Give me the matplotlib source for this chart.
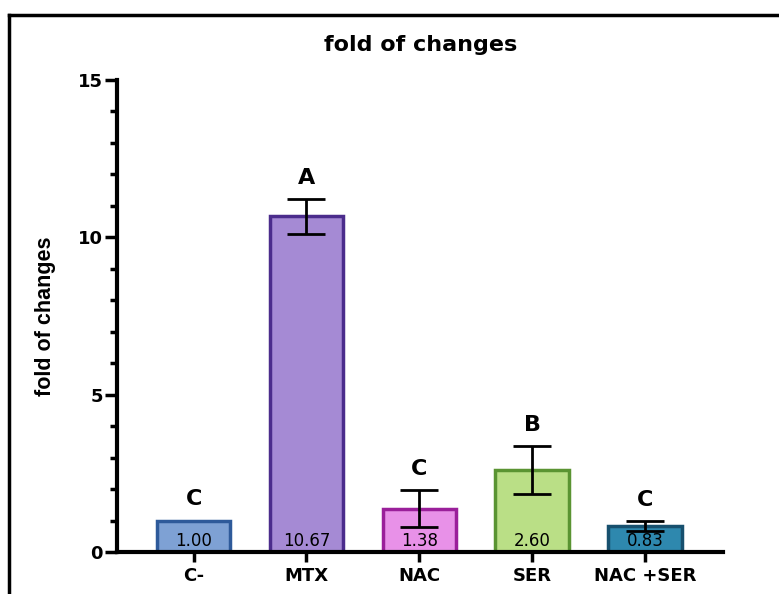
import matplotlib.pyplot as plt
from matplotlib.lines import Line2D
from matplotlib.ticker import MultipleLocator

plt.rcParams['font.family'] = ['Liberation Sans', 'DejaVu Sans']

groups = ["C-", "MTX", "NAC", "SER", "NAC +SER"]
means = [1.00, 10.67, 1.38, 2.60, 0.83]
sem = [0.0, 0.55, 0.58, 0.76, 0.15]
letters = ["C", "A", "C", "B", "C"]
fills = ["#7EA1D4", "#A58AD4", "#E891E8", "#BADF86", "#2E88AE"]
edges = ["#2E5A9A", "#4B2C8C", "#9A1F9A", "#5A9432", "#17506E"]

fig = plt.figure(figsize=(7.79, 5.94), dpi=100)
ax = fig.add_axes([0.150, 0.0707, 0.778, 0.7946])

x = range(len(groups))
ax.bar(x, means, width=0.65, color=fills, edgecolor=edges, linewidth=2.5, zorder=2)
for i in x:
    if sem[i] > 0:
        ax.errorbar(i, means[i], yerr=sem[i], fmt='none', ecolor='black',
                    elinewidth=2, capsize=13.5, capthick=2, zorder=3)
    ax.annotate(letters[i], (i, means[i] + sem[i]), xytext=(0, 8),
                textcoords='offset points', ha='center', va='bottom',
                fontsize=16, fontweight='bold', family='DejaVu Sans')
    ax.text(i, 0.36, f"{means[i]:.2f}", ha='center', va='center',
            fontsize=12, family='DejaVu Sans', zorder=4)

ax.set_xlim(-0.68, 4.69)
ax.set_ylim(0, 15)
ax.set_xticks(list(x))
ax.set_xticklabels(groups, fontsize=13, fontweight='bold', family='DejaVu Sans')
ax.yaxis.set_major_locator(MultipleLocator(5))
ax.yaxis.set_minor_locator(MultipleLocator(1))
ax.tick_params(axis='y', which='major', length=8.5, width=2.5, labelsize=13, pad=1.5)
ax.tick_params(axis='y', which='minor', length=5, width=2.5)
ax.tick_params(axis='x', which='major', length=7, width=2.5, pad=4)
for lbl in ax.get_yticklabels():
    lbl.set_fontweight('bold')
    lbl.set_family('DejaVu Sans')

for side in ['top', 'right']:
    ax.spines[side].set_visible(False)
for side in ['left', 'bottom']:
    ax.spines[side].set_linewidth(3)

ax.set_ylabel("fold of changes", fontsize=15.5, fontweight='bold', va='center')
ax.yaxis.set_label_coords(-0.117, 0.5)
fig.text(0.540, 0.924, "fold of changes", ha='center', va='center',
         fontsize=16, fontweight='bold', family='DejaVu Sans')

# outer frame: top and left edges only
fig.add_artist(Line2D([0.011, 1.0], [0.975, 0.975], color='black', linewidth=2.5))
fig.add_artist(Line2D([0.011, 0.011], [0.0, 0.975], color='black', linewidth=2.5))

fig.savefig("out.png", dpi=100)
